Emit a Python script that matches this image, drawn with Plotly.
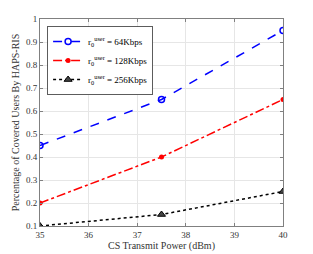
import plotly.graph_objects as go

power = [35, 37.5, 40]
cov_64 = [0.45, 0.65, 0.95]
cov_128 = [0.2, 0.4, 0.65]
cov_256 = [0.1, 0.15, 0.25]
names = ["r<sub>0</sub><sup>user</sup> = 64Kbps",
         "r<sub>0</sub><sup>user</sup> = 128Kbps",
         "r<sub>0</sub><sup>user</sup> = 256Kbps"]

font = "Liberation Serif"
fig = go.Figure()
fig.add_trace(go.Scatter(x=power, y=cov_64, name=names[0], mode="lines+markers",
                         line=dict(color="#0000ff", dash="dash", width=1.5),
                         marker=dict(symbol="circle-open", size=6, color="#0000ff", line=dict(width=1.5))))
fig.add_trace(go.Scatter(x=power, y=cov_128, name=names[1], mode="lines+markers",
                         line=dict(color="#ff0000", dash="dashdot", width=1.5),
                         marker=dict(symbol="circle", size=5, color="#ff0000")))
fig.add_trace(go.Scatter(x=power, y=cov_256, name=names[2], mode="lines+markers",
                         line=dict(color="#000000", dash="dot", width=1.5),
                         marker=dict(symbol="triangle-up", size=7, color="#444444", line=dict(color="#000000", width=1))))

axis_common = dict(showline=True, linecolor="#808080", linewidth=1, mirror="ticks",
                   ticks="inside", ticklen=3, tickcolor="#808080", automargin=False,
                   showgrid=True, gridcolor="#e6e6e6", gridwidth=1, zeroline=False,
                   tickfont=dict(family=font, size=9, color="#333333"))
fig.update_layout(
    width=305, height=246, margin=dict(l=32, r=30, t=11, b=28),
    paper_bgcolor="white", plot_bgcolor="white",
    font=dict(family=font, color="#333333"),
    xaxis=dict(range=[35, 40], dtick=1, title=dict(text="CS Transmit Power (dBm)", font=dict(size=10, family=font), standoff=2), **axis_common),
    yaxis=dict(range=[0.1, 1], dtick=0.1, title=dict(text="Percentage of Covered Users By HAPS-RIS", font=dict(size=10, family=font), standoff=4), **axis_common),
    legend=dict(x=0.03, y=0.965, xanchor="left", yanchor="top", bgcolor="white",
                bordercolor="#333333", borderwidth=0.8, font=dict(family=font, size=9, color="#000000"),
                itemwidth=30, tracegroupgap=0),
    showlegend=True,
)
fig.write_html("out.html")
